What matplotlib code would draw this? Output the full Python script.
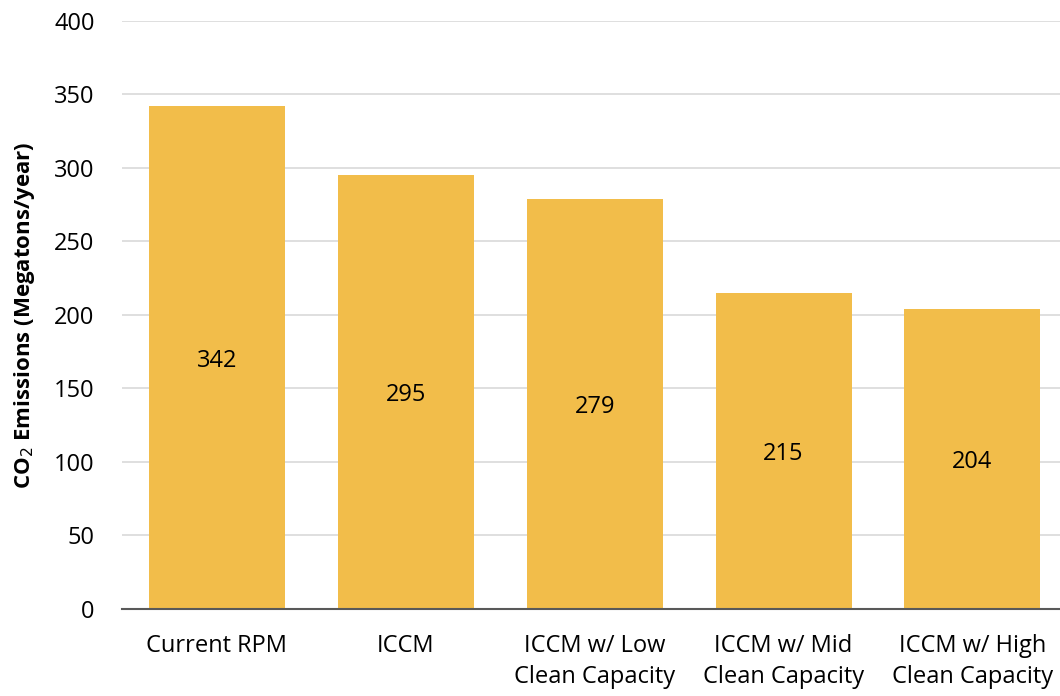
import matplotlib
matplotlib.use("Agg")
import matplotlib.pyplot as plt

categories = ["Current RPM", "ICCM", "ICCM w/ Low\nClean Capacity",
              "ICCM w/ Mid\nClean Capacity", "ICCM w/ High\nClean Capacity"]
emissions = [342, 295, 279, 215, 204]
yticks = [0, 50, 100, 150, 200, 250, 300, 350, 400]


def main():
    plt.rcParams['font.family'] = ['Open Sans', 'DejaVu Sans']
    fig = plt.figure(figsize=(10.6, 6.96), dpi=100)
    ax = fig.add_axes([0.1155, 0.125, 0.891, 0.845])

    x = range(len(categories))
    bars = ax.bar(x, emissions, width=0.72, color='#F2BD4A', zorder=2)
    for b, v in zip(bars, emissions):
        ax.text(b.get_x() + b.get_width() / 2, v / 2, str(v),
                ha='center', va='center_baseline', fontsize=17,
                color='black', zorder=3)

    ax.set_xlim(-0.5, len(categories) - 0.5)
    ax.set_ylim(0, 400)
    ax.set_yticks(yticks)
    ax.set_xticks(list(x))
    ax.set_xticklabels(categories, fontsize=17, linespacing=1.4)
    ax.tick_params(axis='y', labelsize=17, length=0, pad=20)
    ax.tick_params(axis='x', length=0, pad=18)
    ax.grid(axis='y', color='#d9d9d9', linewidth=1.2, zorder=0)
    for s in ['top', 'right', 'left']:
        ax.spines[s].set_visible(False)
    ax.spines['bottom'].set_color('#595959')
    ax.spines['bottom'].set_linewidth(1.5)
    ax.spines['bottom'].set_zorder(4)

    ax.set_ylabel('CO$_2$ Emissions (Megatons/year)', fontsize=16,
                  fontweight='bold', labelpad=12)

    plt.savefig('out.png')


if __name__ == "__main__":
    main()
